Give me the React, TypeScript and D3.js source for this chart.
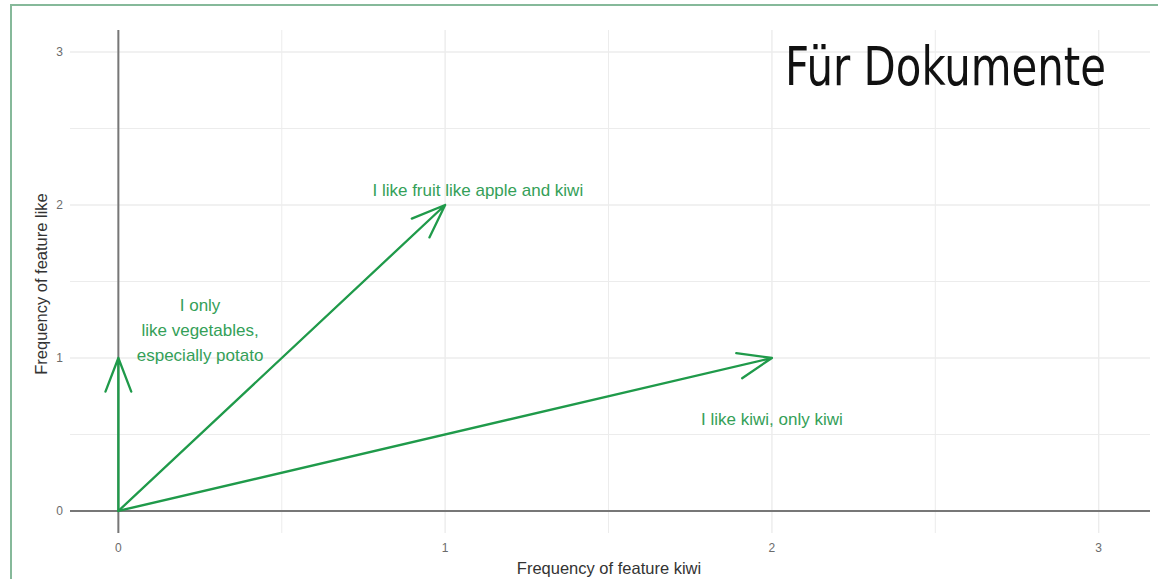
import React from 'react'
import * as d3 from 'd3'

const width = 1158
const height = 579

// document vectors (kiwi, like)
const vecKiwi = [0, 1, 2]
const vecLike = [1, 2, 1]
const vecLabels = [
  ['I only', 'like vegetables,', 'especially potato'],
  ['I like fruit like apple and kiwi'],
  ['I like kiwi, only kiwi'],
]
const labelKiwi = [0.25, 1.1, 2.0]
const labelLike = [1.18, 2.1, 0.6]

const majorTicks = [0, 1, 2, 3]
const minorTicks = [0.5, 1.5, 2.5]

const xTitle = 'Frequency of feature kiwi'
const yTitle = 'Frequency of feature like'
const stamp = 'Für Dokumente'

const panel = { left: 70, right: 1150, top: 30, bottom: 533 }
const x = d3.scaleLinear().domain([-0.148, 3.157]).range([panel.left, panel.right])
const y = d3.scaleLinear().domain([-0.144, 3.144]).range([panel.bottom, panel.top])

const green = '#1f9a4a'
const textGreen = '#34a058'
const grid = '#ececec'

function arrowPath(x0: number, y0: number, x1: number, y1: number) {
  const ang = Math.atan2(y0 - y1, x0 - x1)
  const len = 36
  const spread = (21 * Math.PI) / 180
  const p = d3.path()
  p.moveTo(x0, y0)
  p.lineTo(x1, y1)
  p.moveTo(x1 + len * Math.cos(ang + spread), y1 + len * Math.sin(ang + spread))
  p.lineTo(x1, y1)
  p.lineTo(x1 + len * Math.cos(ang - spread), y1 + len * Math.sin(ang - spread))
  return p.toString()
}

export default function App() {
  return (
    <div style={{ position: 'absolute', left: 0, top: 0 }}>
      <svg width={width} height={height} style={{ display: 'block', background: '#fff' }}>
        <rect x={11} y={5} width={1200} height={700} fill="none" stroke="#86b99a" strokeWidth={2} />

        {/* minor grid */}
        {minorTicks.map(t => (
          <g key={'m' + t}>
            <line x1={x(t)} x2={x(t)} y1={panel.top} y2={panel.bottom} stroke={grid} strokeWidth={1} />
            <line x1={panel.left} x2={panel.right} y1={y(t)} y2={y(t)} stroke={grid} strokeWidth={1} />
          </g>
        ))}
        {/* major grid */}
        {majorTicks.map(t => (
          <g key={'M' + t}>
            <line x1={x(t)} x2={x(t)} y1={panel.top} y2={panel.bottom} stroke={grid} strokeWidth={1.4} />
            <line x1={panel.left} x2={panel.right} y1={y(t)} y2={y(t)} stroke={grid} strokeWidth={1.4} />
          </g>
        ))}

        {/* zero axes */}
        <line x1={x(0)} x2={x(0)} y1={panel.top} y2={panel.bottom} stroke="#777" strokeWidth={2} />
        <line x1={panel.left} x2={panel.right} y1={y(0)} y2={y(0)} stroke="#777" strokeWidth={2} />

        {/* tick labels */}
        <g fontFamily="'Liberation Sans', Arial, sans-serif" fontSize={12} fill="#6b6b6b">
          {majorTicks.map(t => (
            <text key={'xt' + t} x={x(t)} y={552} textAnchor="middle">{t}</text>
          ))}
          {majorTicks.map(t => (
            <text key={'yt' + t} x={63} y={y(t) + 4} textAnchor="end">{t}</text>
          ))}
        </g>

        {/* axis titles */}
        <g fontFamily="'Liberation Sans', Arial, sans-serif" fontSize={16.5} fill="#333">
          <text x={609} y={574} textAnchor="middle">{xTitle}</text>
          <text transform={`translate(47,${284}) rotate(-90)`} textAnchor="middle">{yTitle}</text>
        </g>

        {/* vectors */}
        <g fill="none" stroke={green} strokeWidth={2.3} strokeLinecap="round" strokeLinejoin="round">
          {vecKiwi.map((k, i) => (
            <path key={'v' + i} d={arrowPath(x(0), y(0), x(k), y(vecLike[i]))} />
          ))}
        </g>

        {/* labels */}
        <g fontFamily="'Liberation Sans', Arial, sans-serif" fontSize={17} fill={textGreen} textAnchor="middle">
          {vecLabels.map((lines, i) => (
            <text key={'l' + i} x={x(labelKiwi[i])} y={y(labelLike[i]) + 6}>
              {lines.map((ln, j) => (
                <tspan key={j} x={x(labelKiwi[i])} dy={j === 0 ? -(lines.length - 1) * 25 / 2 : 25}>{ln}</tspan>
              ))}
            </text>
          ))}
        </g>

        <text x={785} y={85} fontFamily="'Liberation Sans Narrow', 'DejaVu Sans Condensed', sans-serif"
          fontSize={53} fill="#111" textLength={321} lengthAdjust="spacingAndGlyphs">{stamp}</text>
      </svg>
    </div>
  )
}
